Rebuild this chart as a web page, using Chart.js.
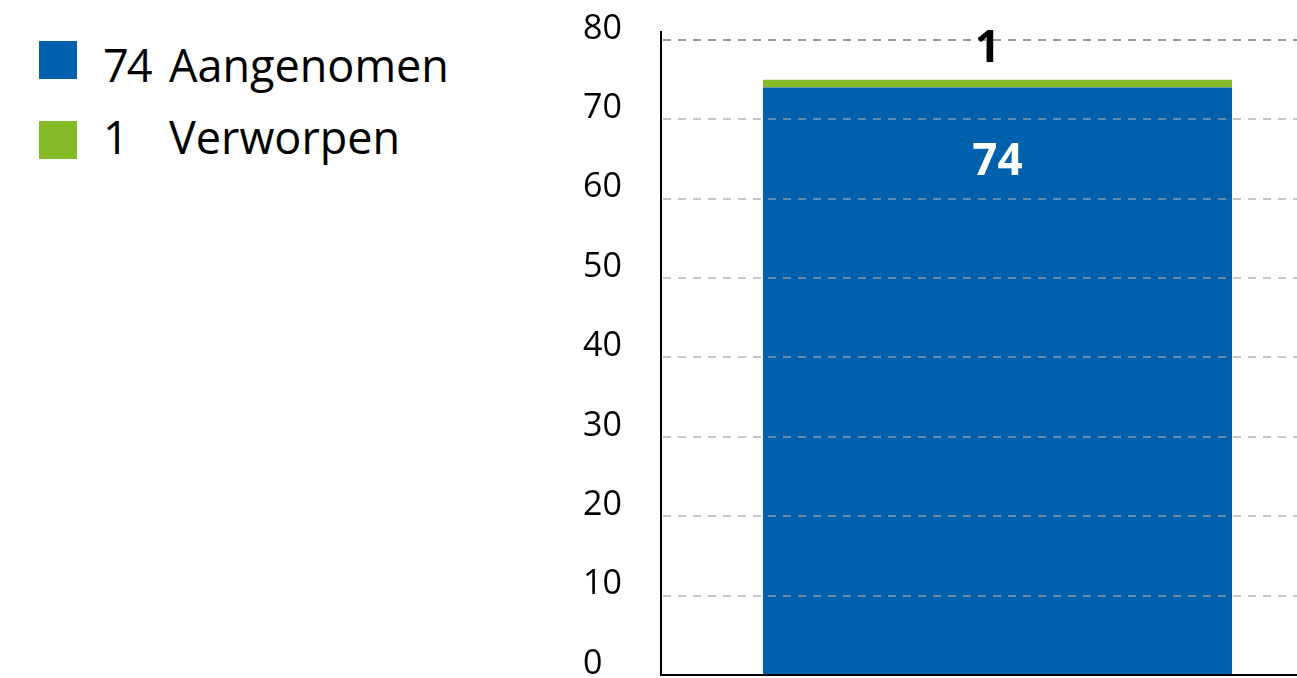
<!DOCTYPE html>
<html><head><meta charset="utf-8">
<script src="https://cdn.jsdelivr.net/npm/chart.js@4"></script>
<style>
html,body{margin:0;padding:0;background:#fff;overflow:hidden;width:1297px;height:678px}
#wrap{position:relative;width:1297px;height:678px;overflow:hidden}
#c{position:absolute;left:0;top:0}
.row{position:absolute;left:0;width:560px;height:45px;font-family:'Open Sans';font-size:45px;line-height:45px;color:#000;white-space:nowrap}
.sw{position:absolute;left:39px;width:38px;height:38px}
.num{position:absolute;left:103px;top:0;letter-spacing:-2px}
.lab{position:absolute;left:169px;top:0}
</style></head>
<body>
<div id="wrap">
  <div id="legend"></div>
  <canvas id="c" width="1334" height="678"></canvas>
</div>
<script>
const categories = [''];
const seriesNames = ['Aangenomen', 'Verworpen'];
const aangenomen = [74];
const verworpen = [1];
const seriesColors = ['#0060ab', '#84bb26'];
const yMin = 0, yMax = 81, yStep = 10;

// legend (HTML)
const seriesValues = [aangenomen, verworpen];
const legendRows = [{sw: 41, txt: 42}, {sw: 121, txt: 114}];
const lg = document.getElementById('legend');
seriesNames.forEach((name, i) => {
  const sw = document.createElement('div');
  sw.className = 'sw';
  sw.style.top = legendRows[i].sw + 'px';
  sw.style.background = seriesColors[i];
  lg.appendChild(sw);
  const row = document.createElement('div');
  row.className = 'row';
  row.style.top = legendRows[i].txt + 'px';
  row.innerHTML = '<span class="num">' + seriesValues[i][0] + '</span><span class="lab">' + name + '</span>';
  lg.appendChild(row);
});

// dashed grid drawn on top of the bars, from the y scale's own ticks
const gridOnTop = {
  id: 'gridOnTop',
  afterDatasetsDraw(chart) {
    const ctx = chart.ctx, s = chart.scales.y, a = chart.chartArea;
    ctx.save();
    ctx.lineWidth = 2;
    ctx.setLineDash([8, 7]);
    s.ticks.forEach(t => {
      if (t.value === yMin) return;
      const y = Math.round(s.getPixelForValue(t.value));
      ctx.strokeStyle = t.value === 80 ? 'rgba(110,110,110,0.7)' : 'rgba(164,164,164,0.62)';
      ctx.beginPath();
      ctx.moveTo(a.left + 2, y);
      ctx.lineTo(a.right, y);
      ctx.stroke();
    });
    ctx.restore();
  }
};

const labelPlugin = {
  id: 'barLabels',
  afterDraw(chart) {
    const ctx = chart.ctx;
    const m0 = chart.getDatasetMeta(0), m1 = chart.getDatasetMeta(1);
    ctx.save();
    ctx.font = '700 44px "Open Sans"';
    ctx.textAlign = 'center';
    ctx.textBaseline = 'middle';
    m0.data.forEach((bar, i) => {
      ctx.fillStyle = '#ffffff';
      ctx.fillText(String(aangenomen[i]), bar.x, bar.y + 75);
    });
    m1.data.forEach((bar, i) => {
      ctx.fillStyle = '#000000';
      ctx.fillText(String(verworpen[i]), bar.x - 10, bar.y - 30);
    });
    ctx.restore();
  }
};

new Chart(document.getElementById('c'), {
  type: 'bar',
  data: {
    labels: categories,
    datasets: [
      {label: seriesNames[0], data: aangenomen, backgroundColor: seriesColors[0], borderWidth: 0, barPercentage: 0.697, categoryPercentage: 1},
      {label: seriesNames[1], data: verworpen, backgroundColor: seriesColors[1], borderWidth: 0, barPercentage: 0.697, categoryPercentage: 1}
    ]
  },
  options: {
    responsive: false,
    animation: false,
    devicePixelRatio: 1,
    layout: {padding: {left: 583, top: 32, right: 0, bottom: 3}},
    plugins: {legend: {display: false}, tooltip: {enabled: false}},
    scales: {
      x: {
        stacked: true,
        grid: {display: false, drawTicks: false},
        ticks: {display: false},
        border: {display: true, color: '#000', width: 2, z: 2},
        afterFit: s => { s.height = 0; s.paddingLeft = 0; s.paddingRight = 0; }
      },
      y: {
        stacked: true,
        min: yMin, max: yMax,
        afterBuildTicks: s => { s.ticks = s.ticks.filter(t => t.value % yStep === 0); },
        afterFit: s => { s.width = 78; s.paddingTop = 0; s.paddingBottom = 0; },
        ticks: {
          stepSize: yStep, includeBounds: false, crossAlign: 'far', labelOffset: -11, padding: 0,
          color: '#000', font: {family: 'Open Sans', size: 34}
        },
        grid: {display: false, drawTicks: false},
        border: {display: true, color: '#000', width: 2, z: 2}
      }
    }
  },
  plugins: [gridOnTop, labelPlugin]
});
</script>
</body></html>
